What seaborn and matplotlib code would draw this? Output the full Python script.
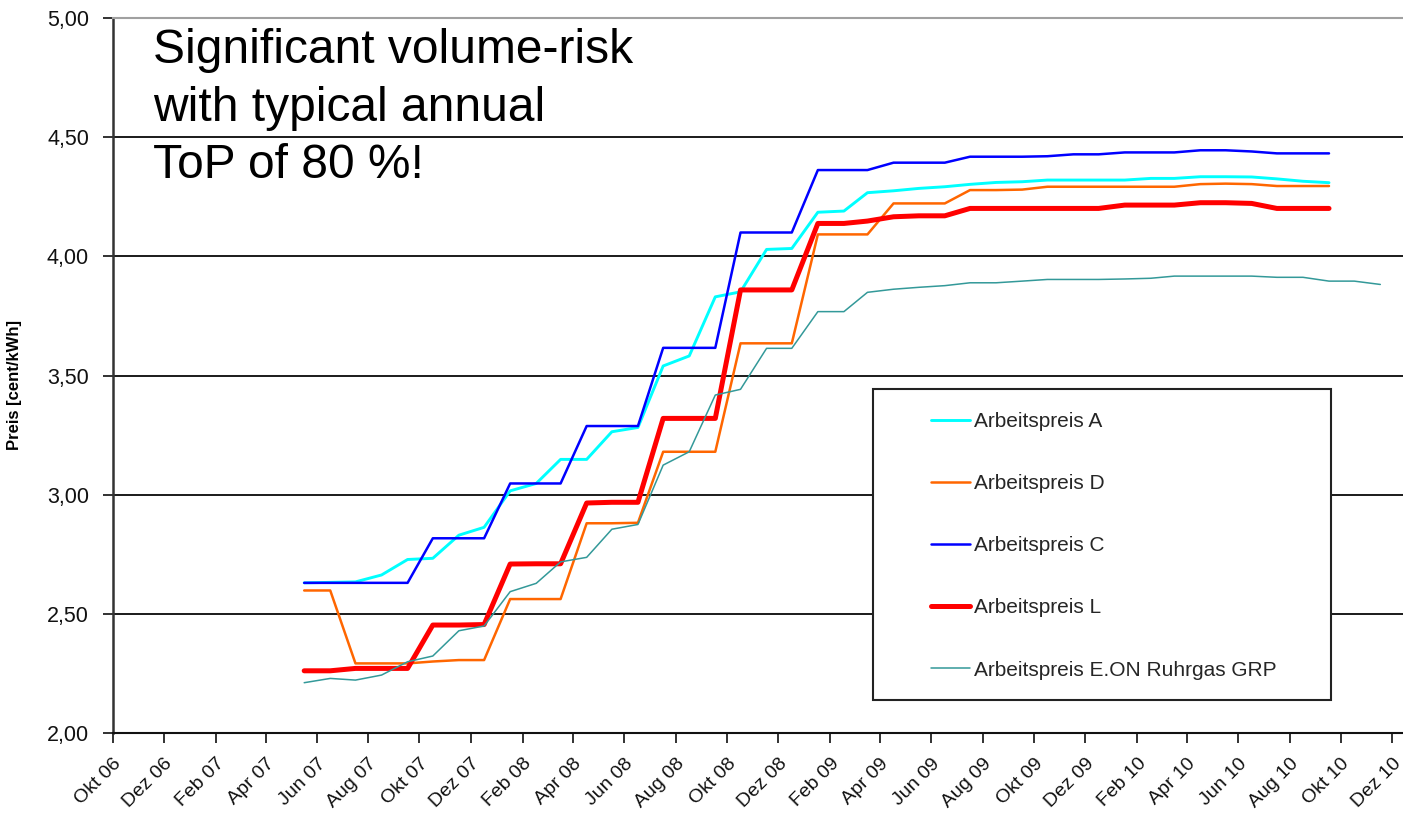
import matplotlib
matplotlib.use("Agg")
import matplotlib.pyplot as plt
import matplotlib.patches as mpatches
import matplotlib.transforms as mtransforms
import numpy as np
import pandas as pd
import seaborn as sns

# ---------------- data ----------------
tick_labels = ["Okt 06", "Dez 06", "Feb 07", "Apr 07", "Jun 07", "Aug 07", "Okt 07", "Dez 07",
               "Feb 08", "Apr 08", "Jun 08", "Aug 08", "Okt 08", "Dez 08", "Feb 09", "Apr 09",
               "Jun 09", "Aug 09", "Okt 09", "Dez 09", "Feb 10", "Apr 10", "Jun 10", "Aug 10",
               "Okt 10", "Dez 10"]
tick_dates = pd.date_range("2006-10-01", periods=len(tick_labels), freq="2MS")

series_names = ["Arbeitspreis A", "Arbeitspreis D", "Arbeitspreis C", "Arbeitspreis L",
                "Arbeitspreis E.ON Ruhrgas GRP"]

preis_a = [2.630, 2.632, 2.634, 2.663, 2.728, 2.733, 2.830, 2.863, 3.016, 3.047,
           3.148, 3.148, 3.264, 3.282, 3.540, 3.582, 3.830, 3.851, 4.029, 4.033,
           4.185, 4.190, 4.267, 4.275, 4.285, 4.292, 4.302, 4.310, 4.313, 4.320,
           4.320, 4.320, 4.320, 4.327, 4.327, 4.334, 4.334, 4.333, 4.325, 4.315,
           4.309]
preis_d = [2.598, 2.598, 2.292, 2.292, 2.292, 2.300, 2.306, 2.306, 2.562, 2.562,
           2.562, 2.880, 2.880, 2.882, 3.180, 3.180, 3.180, 3.635, 3.635, 3.635,
           4.092, 4.092, 4.092, 4.222, 4.222, 4.222, 4.278, 4.278, 4.280, 4.292,
           4.292, 4.292, 4.292, 4.292, 4.292, 4.303, 4.305, 4.303, 4.295, 4.295,
           4.295]
preis_c = [2.630, 2.630, 2.630, 2.630, 2.630, 2.817, 2.817, 2.817, 3.047, 3.047,
           3.047, 3.288, 3.288, 3.288, 3.616, 3.616, 3.616, 4.100, 4.100, 4.100,
           4.362, 4.362, 4.362, 4.393, 4.393, 4.393, 4.418, 4.418, 4.418, 4.420,
           4.428, 4.428, 4.436, 4.436, 4.436, 4.445, 4.445, 4.440, 4.432, 4.432,
           4.432]
preis_l = [2.261, 2.261, 2.271, 2.271, 2.271, 2.453, 2.453, 2.455, 2.709, 2.710,
           2.710, 2.965, 2.968, 2.968, 3.320, 3.320, 3.320, 3.859, 3.859, 3.859,
           4.138, 4.138, 4.148, 4.166, 4.170, 4.170, 4.201, 4.201, 4.201, 4.201,
           4.201, 4.201, 4.215, 4.215, 4.215, 4.225, 4.225, 4.222, 4.201, 4.201,
           4.201]
preis_grp = [2.211, 2.229, 2.222, 2.243, 2.299, 2.323, 2.429, 2.449, 2.593, 2.628,
             2.718, 2.737, 2.855, 2.875, 3.124, 3.180, 3.418, 3.442, 3.614, 3.614,
             3.768, 3.768, 3.849, 3.862, 3.870, 3.877, 3.889, 3.889, 3.896, 3.903,
             3.903, 3.903, 3.905, 3.908, 3.917, 3.917, 3.917, 3.917, 3.912, 3.912,
             3.896, 3.896, 3.882]

y_ticks = [2.0, 2.5, 3.0, 3.5, 4.0, 4.5, 5.0]
y_tick_labels = ["2,00", "2,50", "3,00", "3,50", "4,00", "4,50", "5,00"]

note_text = "Significant volume-risk\nwith typical annual\nToP of 80 %!"
y_label = "Preis [cent/kWh]"

# ---------------- styling ----------------
colors = ["#00FFFF", "#FF6600", "#0000FF", "#FF0000", "#339999"]
widths = [2.1, 1.8, 1.8, 3.6, 1.1]

sns.set_theme(style="white")
plt.rcParams["font.family"] = ["Liberation Sans", "DejaVu Sans"]

W, H = 1403, 813
fig = plt.figure(figsize=(W / 100, H / 100), dpi=100)
ax = fig.add_axes([112.5 / W, 80 / H, (W - 112.5) / W, 715 / H])

def month_dates(n):
    return pd.date_range("2007-05-01", periods=n, freq="MS") + pd.Timedelta(days=16)

all_series = [preis_a, preis_d, preis_c, preis_l, preis_grp]
for i, (name, vals) in enumerate(zip(series_names, all_series)):
    df = pd.DataFrame({"Datum": month_dates(len(vals)), "Preis": vals})
    sns.lineplot(data=df, x="Datum", y="Preis", ax=ax, color=colors[i], lw=widths[i],
                 label=name, zorder=2 + i * 0.1, legend=False)

ax.set_xlim(pd.Timestamp("2006-10-01"), pd.Timestamp("2010-12-14"))
ax.set_ylim(2.0, 5.0)
ax.set_yticks(y_ticks)
ax.set_yticklabels(y_tick_labels)
ax.set_xticks(tick_dates)
ax.set_xticklabels(tick_labels, rotation=45, ha="right", va="top", rotation_mode="anchor")

ax.set_xlabel("")
ax.set_ylabel(y_label, fontsize=12, fontweight="bold", color="black")
ax.yaxis.set_label_coords(-0.0705, 0.487)

ax.tick_params(axis="y", direction="out", length=7, width=1.3, color="#222222",
               labelsize=15.5, pad=10, labelcolor="#111111", left=True)
ax.tick_params(axis="x", direction="out", length=7, width=1.3, color="#222222",
               labelsize=14, pad=9, labelcolor="#111111", bottom=True)

ax.set_axisbelow(True)
ax.yaxis.grid(True, color="#1a1a1a", lw=1.4)
ax.xaxis.grid(False)
gl = ax.get_ygridlines()
gl[-1].set_color("#a0a0a0")

ax.spines["right"].set_visible(False)
ax.spines["top"].set_color("#a0a0a0")
ax.spines["top"].set_linewidth(1.5)
ax.spines["left"].set_color("#333333")
ax.spines["left"].set_linewidth(1.8)
ax.spines["bottom"].set_color("#111111")
ax.spines["bottom"].set_linewidth(1.5)

# legend box
rect = mpatches.Rectangle((873 / W, 1 - 700 / H), 458 / W, 311 / H, transform=fig.transFigure,
                          facecolor="white", edgecolor="#222222", lw=1.5, zorder=4,
                          clip_on=False)
ax.add_patch(rect)
leg = ax.legend(loc="upper left", bbox_to_anchor=(931 / W, 1 - 412 / H),
                bbox_transform=fig.transFigure, frameon=False, fontsize=15,
                handlelength=1.86, handletextpad=0.2, labelspacing=2.07,
                borderpad=0, borderaxespad=0)
leg.set_zorder(5)

fig.text(153 / W, 1 - 28 / H, note_text, fontsize=34.5, ha="left", va="top",
         linespacing=1.36, color="black")

fig.savefig("out.png", dpi=100, facecolor="white")
